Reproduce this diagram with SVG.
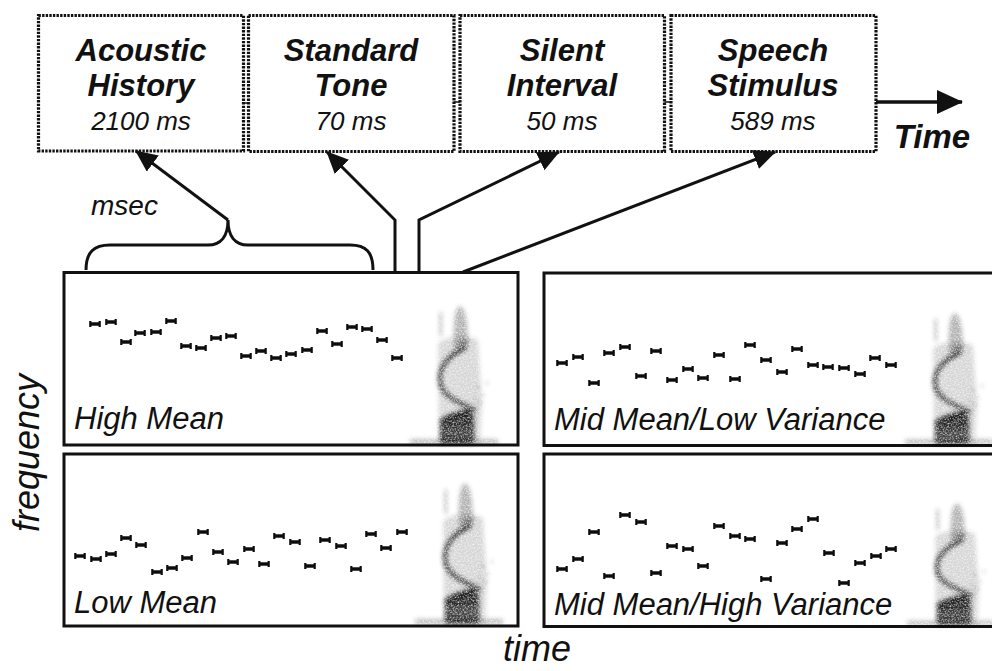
<svg xmlns="http://www.w3.org/2000/svg" xmlns:xlink="http://www.w3.org/1999/xlink" width="992" height="671" viewBox="0 0 992 671">
  <style>
    .box { fill: #fff; stroke: #111; stroke-width: 3.2; stroke-dasharray: 2.4 1.2; }
    .panel { fill: #fff; stroke: #111; stroke-width: 3; }
    .head { font-family: "Liberation Sans", Arial, sans-serif; font-weight: bold; font-style: italic; font-size: 31px; fill: #111; text-anchor: middle; }
    .dur { font-family: "Liberation Sans", Arial, sans-serif; font-style: italic; font-size: 26px; fill: #111; text-anchor: middle; }
    .lbl { font-family: "Liberation Sans", Arial, sans-serif; font-style: italic; font-size: 31px; fill: #111; }
    .axis { font-family: "Liberation Sans", Arial, sans-serif; font-style: italic; font-size: 36px; fill: #111; }
    .conn { fill: none; stroke: #111; stroke-width: 3; stroke-linejoin: miter; }
    .tick { stroke: #111; stroke-width: 1.5; }
    .tones use { filter: url(#soft); }
  </style>
  <defs>
    <marker id="arrow" viewBox="0 0 22 20" refX="21" refY="10" markerWidth="22" markerHeight="20" markerUnits="userSpaceOnUse" orient="auto">
      <path d="M0,0 L22,10 L0,20 Z" fill="#111"/>
    </marker>
    <marker id="arrowBig" viewBox="0 0 26 24" refX="25" refY="12" markerWidth="26" markerHeight="24" markerUnits="userSpaceOnUse" orient="auto">
      <path d="M0,0 L26,12 L0,24 Z" fill="#111"/>
    </marker>
    <filter id="soft" x="-30%" y="-100%" width="160%" height="300%">
      <feGaussianBlur stdDeviation="0.4"/>
    </filter>
    <filter id="smudge" x="-60%" y="-20%" width="220%" height="140%">
      <feGaussianBlur in="SourceGraphic" stdDeviation="2.3" result="b"/>
      <feTurbulence type="fractalNoise" baseFrequency="0.6" numOctaves="2" seed="7" result="n"/>
      <feColorMatrix in="n" type="matrix" values="0 0 0 0 0  0 0 0 0 0  0 0 0 0 0  1.6 0 0 0 0.05" result="m"/>
      <feComposite in="b" in2="m" operator="in"/>
    </filter>
    <!-- one tone: a short bar with square end caps -->
    <path id="tone" d="M-5.8,-3 h2.2 v1.2 h7.2 v-1.2 h2.2 v6 h-2.2 v-1.2 h-7.2 v1.2 h-2.2 Z" fill="#111"/>
    <!-- speech spectrogram, bottom edge at y=0 -->
    <g id="spec">
      <path d="M1,0 L0,-100 C4,-108 30,-110 40,-104 L44,-40 L42,0 Z" fill="#000" opacity="0.16"/>
      <path d="M16,-96 C15,-120 16,-136 22,-138 C28,-136 30,-120 30,-96 Z" fill="#000" opacity="0.3"/>
      <rect x="1.5" y="-132" width="2.5" height="24" fill="#000" opacity="0.3"/>
      <path d="M30,-104 C22,-98 16,-92 10,-84" fill="none" stroke="#000" stroke-width="4" opacity="0.3"/>
      <path d="M28,-96 C12,-90 0,-78 2,-62 C4,-48 20,-42 38,-33" fill="none" stroke="#000" stroke-width="4.5" opacity="0.7"/>
      <path d="M2,0 L2,-20 C10,-27 20,-31 30,-34 L36,-28 L36,0 Z" fill="#000" opacity="0.8"/>
      <path d="M2,-22 C10,-28 20,-31 32,-33" fill="none" stroke="#000" stroke-width="4" opacity="0.9"/>
      <path d="M4,-14 H34 M4,-8 H34" stroke="#fff" stroke-width="1.2" opacity="0.3"/>
      <rect x="-28" y="-5" width="88" height="5" fill="#000" opacity="0.28"/>
      <path d="M38,-55 l3,-3 M44,-48 l2,-2 M40,-40 l4,-2 M48,-60 l2,-2 M36,-46 l2,2" stroke="#000" stroke-width="1.5" opacity="0.4"/>
    </g>
  </defs>

  <rect width="992" height="671" fill="#fff"/>

  <!-- timeline boxes -->
  <g id="acoustic-history">
    <rect class="box" x="38.5" y="15.5" width="205" height="135.5"/>
    <text class="head" x="141" y="61">Acoustic</text>
    <text class="head" x="141" y="96">History</text>
    <text class="dur" x="141" y="130">2100 ms</text>
  </g>
  <g id="standard-tone">
    <rect class="box" x="248.5" y="15.5" width="205.5" height="136"/>
    <text class="head" x="351" y="61">Standard</text>
    <text class="head" x="351" y="96">Tone</text>
    <text class="dur" x="351" y="130">70 ms</text>
  </g>
  <g id="silent-interval">
    <rect class="box" x="460" y="15.5" width="204.5" height="136"/>
    <text class="head" x="562" y="61">Silent</text>
    <text class="head" x="562" y="96">Interval</text>
    <text class="dur" x="562" y="130">50 ms</text>
  </g>
  <g id="speech-stimulus">
    <rect class="box" x="671" y="15.5" width="205" height="136"/>
    <text class="head" x="773" y="61">Speech</text>
    <text class="head" x="773" y="96">Stimulus</text>
    <text class="dur" x="773" y="130">589 ms</text>
  </g>
  <g id="time-label">
    <text class="head" x="932" y="148" style="font-size:33px">Time</text>
  </g>

  <!-- stimulus panels -->
  <g id="panel-high-mean">
    <rect class="panel" x="64" y="272.5" width="454" height="172.5"/>
    <use href="#spec" transform="translate(438,444)" filter="url(#smudge)"/>
    <g class="tones">
      <use href="#tone" x="95" y="324"/><use href="#tone" x="111" y="322"/><use href="#tone" x="126" y="342"/>
      <use href="#tone" x="140" y="333"/><use href="#tone" x="156" y="332"/><use href="#tone" x="171" y="321"/>
      <use href="#tone" x="186" y="346"/><use href="#tone" x="201" y="348"/><use href="#tone" x="216" y="338"/>
      <use href="#tone" x="231" y="336"/><use href="#tone" x="246" y="356"/><use href="#tone" x="261" y="351"/>
      <use href="#tone" x="276" y="358"/><use href="#tone" x="291" y="354"/><use href="#tone" x="307" y="350"/>
      <use href="#tone" x="322" y="331"/><use href="#tone" x="337" y="344"/><use href="#tone" x="352" y="327"/>
      <use href="#tone" x="367" y="329"/><use href="#tone" x="382" y="340"/><use href="#tone" x="397" y="358"/>
    </g>
    <text class="lbl" x="74" y="429">High Mean</text>
  </g>

  <g id="panel-mid-low-variance">
    <rect class="panel" x="544" y="273" width="460" height="172.5"/>
    <use href="#spec" transform="translate(933,444) scale(1,0.95)" filter="url(#smudge)"/>
    <g class="tones">
      <use href="#tone" x="562" y="363"/><use href="#tone" x="578" y="357"/><use href="#tone" x="594" y="383"/>
      <use href="#tone" x="609" y="353"/><use href="#tone" x="625" y="347"/><use href="#tone" x="641" y="376"/>
      <use href="#tone" x="656" y="351"/><use href="#tone" x="672" y="380"/><use href="#tone" x="688" y="369"/>
      <use href="#tone" x="703" y="378"/><use href="#tone" x="719" y="355"/><use href="#tone" x="735" y="379"/>
      <use href="#tone" x="750" y="345"/><use href="#tone" x="766" y="360"/><use href="#tone" x="782" y="372"/>
      <use href="#tone" x="797" y="349"/><use href="#tone" x="813" y="365"/><use href="#tone" x="828" y="367"/>
      <use href="#tone" x="844" y="368"/><use href="#tone" x="860" y="374"/><use href="#tone" x="875" y="358"/>
      <use href="#tone" x="891" y="365"/>
    </g>
    <text class="lbl" x="554" y="430">Mid Mean/Low Variance</text>
  </g>

  <g id="panel-low-mean">
    <rect class="panel" x="64" y="454" width="454" height="172"/>
    <use href="#spec" transform="translate(443,624) scale(1,1.02)" filter="url(#smudge)"/>
    <g class="tones">
      <use href="#tone" x="80" y="556"/><use href="#tone" x="96" y="559"/><use href="#tone" x="111" y="554"/>
      <use href="#tone" x="126" y="538"/><use href="#tone" x="141" y="545"/><use href="#tone" x="157" y="572"/>
      <use href="#tone" x="172" y="568"/><use href="#tone" x="187" y="558"/><use href="#tone" x="203" y="532"/>
      <use href="#tone" x="218" y="552"/><use href="#tone" x="233" y="562"/><use href="#tone" x="249" y="549"/>
      <use href="#tone" x="264" y="564"/><use href="#tone" x="279" y="536"/><use href="#tone" x="295" y="542"/>
      <use href="#tone" x="310" y="566"/><use href="#tone" x="325" y="540"/><use href="#tone" x="341" y="546"/>
      <use href="#tone" x="356" y="569"/><use href="#tone" x="371" y="534"/><use href="#tone" x="386" y="548"/>
      <use href="#tone" x="402" y="532"/>
    </g>
    <text class="lbl" x="74" y="613">Low Mean</text>
  </g>

  <g id="panel-mid-high-variance">
    <rect class="panel" x="544" y="454" width="460" height="172.5"/>
    <use href="#spec" transform="translate(935,625) scale(1,0.88)" filter="url(#smudge)"/>
    <g class="tones">
      <use href="#tone" x="562" y="569"/><use href="#tone" x="578" y="559"/><use href="#tone" x="594" y="532"/>
      <use href="#tone" x="609" y="576"/><use href="#tone" x="625" y="515"/><use href="#tone" x="641" y="522"/>
      <use href="#tone" x="656" y="573"/><use href="#tone" x="672" y="546"/><use href="#tone" x="688" y="549"/>
      <use href="#tone" x="703" y="566"/><use href="#tone" x="719" y="526"/><use href="#tone" x="735" y="536"/>
      <use href="#tone" x="750" y="539"/><use href="#tone" x="766" y="579"/><use href="#tone" x="782" y="543"/>
      <use href="#tone" x="797" y="529"/><use href="#tone" x="813" y="519"/><use href="#tone" x="829" y="553"/>
      <use href="#tone" x="844" y="583"/><use href="#tone" x="860" y="563"/><use href="#tone" x="876" y="556"/>
      <use href="#tone" x="891" y="549"/>
    </g>
    <text class="lbl" x="554" y="615">Mid Mean/High Variance</text>
  </g>

  <!-- axis labels -->
  <g id="axis-labels">
    <text class="axis" transform="translate(39,453) rotate(-90)" text-anchor="middle">frequency</text>
    <text class="axis" x="537" y="661" text-anchor="middle">time</text>
    <text class="lbl" x="91" y="215" style="font-size:28px">msec</text>
  </g>

  <!-- connectors -->
  <g id="connectors">
    <path class="tick" d="M243.5,103 H248.5 M454,102 H460 M664.5,102 H671"/>
    <path class="conn" d="M86,270 C86,252 94,245 110,245 L208,245 C221,245 228,236 228,220 C228,236 235,245 248,245 L350,245 C366,245 373,252 373,270"/>
    <path class="conn" d="M228,220 L136,151" marker-end="url(#arrow)"/>
    <path class="conn" d="M395,272 L395,220 L327,152" marker-end="url(#arrow)"/>
    <path class="conn" d="M419,272 L419,220 L559,152" marker-end="url(#arrow)"/>
    <path class="conn" d="M463,272 L775,152" marker-end="url(#arrow)"/>
    <path class="conn" d="M876,102 L962,102" style="stroke-width:3.6" marker-end="url(#arrowBig)"/>
  </g>
</svg>
